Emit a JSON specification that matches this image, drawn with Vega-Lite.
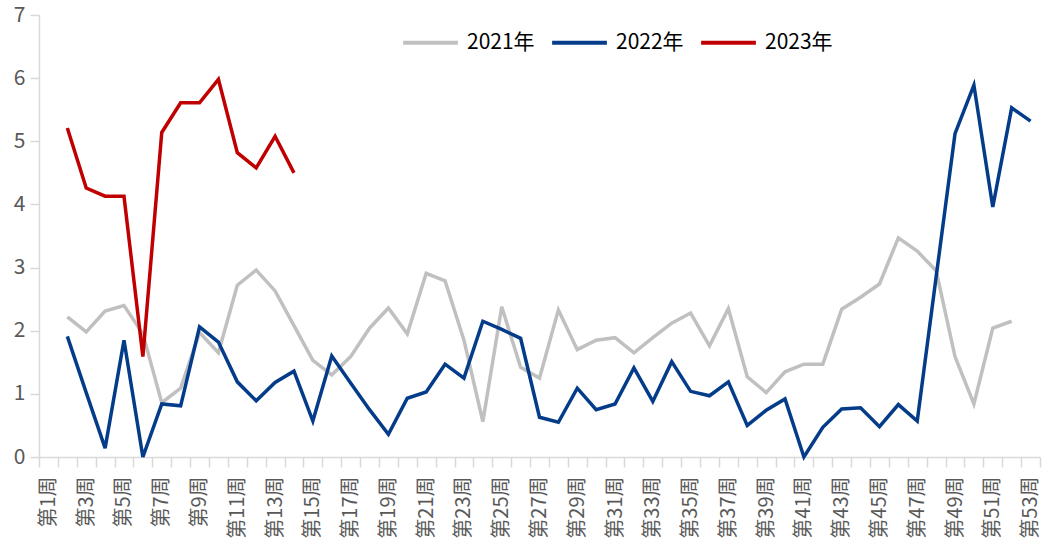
{
  "$schema": "https://vega.github.io/schema/vega-lite/v6.json",
  "width": 1001,
  "height": 442,
  "autosize": {"type": "none"},
  "padding": {"left": 39, "top": 15, "right": 6, "bottom": 85},
  "background": "white",
  "config": {"view": {"stroke": null}, "font": "Noto Sans CJK SC"},
  "data": {"values": [
    {"wk":2,"year":"2021年","v":2.22},{"wk":3,"year":"2021年","v":1.98},{"wk":4,"year":"2021年","v":2.31},{"wk":5,"year":"2021年","v":2.40},{"wk":6,"year":"2021年","v":1.95},{"wk":7,"year":"2021年","v":0.86},{"wk":8,"year":"2021年","v":1.09},{"wk":9,"year":"2021年","v":1.97},{"wk":10,"year":"2021年","v":1.65},{"wk":11,"year":"2021年","v":2.72},{"wk":12,"year":"2021年","v":2.96},{"wk":13,"year":"2021年","v":2.63},{"wk":14,"year":"2021年","v":2.08},{"wk":15,"year":"2021年","v":1.53},{"wk":16,"year":"2021年","v":1.30},{"wk":17,"year":"2021年","v":1.59},{"wk":18,"year":"2021年","v":2.04},{"wk":19,"year":"2021年","v":2.36},{"wk":20,"year":"2021年","v":1.95},{"wk":21,"year":"2021年","v":2.91},{"wk":22,"year":"2021年","v":2.79},{"wk":23,"year":"2021年","v":1.85},{"wk":24,"year":"2021年","v":0.56},{"wk":25,"year":"2021年","v":2.38},{"wk":26,"year":"2021年","v":1.42},{"wk":27,"year":"2021年","v":1.25},{"wk":28,"year":"2021年","v":2.33},{"wk":29,"year":"2021年","v":1.70},{"wk":30,"year":"2021年","v":1.85},{"wk":31,"year":"2021年","v":1.89},{"wk":32,"year":"2021年","v":1.65},{"wk":33,"year":"2021年","v":1.89},{"wk":34,"year":"2021年","v":2.12},{"wk":35,"year":"2021年","v":2.28},{"wk":36,"year":"2021年","v":1.76},{"wk":37,"year":"2021年","v":2.35},{"wk":38,"year":"2021年","v":1.27},{"wk":39,"year":"2021年","v":1.02},{"wk":40,"year":"2021年","v":1.35},{"wk":41,"year":"2021年","v":1.47},{"wk":42,"year":"2021年","v":1.47},{"wk":43,"year":"2021年","v":2.34},{"wk":44,"year":"2021年","v":2.53},{"wk":45,"year":"2021年","v":2.74},{"wk":46,"year":"2021年","v":3.47},{"wk":47,"year":"2021年","v":3.26},{"wk":48,"year":"2021年","v":2.95},{"wk":49,"year":"2021年","v":1.59},{"wk":50,"year":"2021年","v":0.84},{"wk":51,"year":"2021年","v":2.04},{"wk":52,"year":"2021年","v":2.15},
    {"wk":2,"year":"2022年","v":1.91},{"wk":3,"year":"2022年","v":1.02},{"wk":4,"year":"2022年","v":0.14},{"wk":5,"year":"2022年","v":1.85},{"wk":6,"year":"2022年","v":0.0},{"wk":7,"year":"2022年","v":0.84},{"wk":8,"year":"2022年","v":0.81},{"wk":9,"year":"2022年","v":2.06},{"wk":10,"year":"2022年","v":1.82},{"wk":11,"year":"2022年","v":1.19},{"wk":12,"year":"2022年","v":0.89},{"wk":13,"year":"2022年","v":1.18},{"wk":14,"year":"2022年","v":1.36},{"wk":15,"year":"2022年","v":0.57},{"wk":16,"year":"2022年","v":1.60},{"wk":17,"year":"2022年","v":1.17},{"wk":18,"year":"2022年","v":0.75},{"wk":19,"year":"2022年","v":0.36},{"wk":20,"year":"2022年","v":0.93},{"wk":21,"year":"2022年","v":1.03},{"wk":22,"year":"2022年","v":1.47},{"wk":23,"year":"2022年","v":1.25},{"wk":24,"year":"2022年","v":2.15},{"wk":25,"year":"2022年","v":2.02},{"wk":26,"year":"2022年","v":1.88},{"wk":27,"year":"2022年","v":0.63},{"wk":28,"year":"2022年","v":0.55},{"wk":29,"year":"2022年","v":1.09},{"wk":30,"year":"2022年","v":0.75},{"wk":31,"year":"2022年","v":0.84},{"wk":32,"year":"2022年","v":1.41},{"wk":33,"year":"2022年","v":0.88},{"wk":34,"year":"2022年","v":1.51},{"wk":35,"year":"2022年","v":1.04},{"wk":36,"year":"2022年","v":0.97},{"wk":37,"year":"2022年","v":1.19},{"wk":38,"year":"2022年","v":0.50},{"wk":39,"year":"2022年","v":0.74},{"wk":40,"year":"2022年","v":0.92},{"wk":41,"year":"2022年","v":0.0},{"wk":42,"year":"2022年","v":0.47},{"wk":43,"year":"2022年","v":0.76},{"wk":44,"year":"2022年","v":0.78},{"wk":45,"year":"2022年","v":0.48},{"wk":46,"year":"2022年","v":0.83},{"wk":47,"year":"2022年","v":0.57},{"wk":48,"year":"2022年","v":2.85},{"wk":49,"year":"2022年","v":5.12},{"wk":50,"year":"2022年","v":5.89},{"wk":51,"year":"2022年","v":3.96},{"wk":52,"year":"2022年","v":5.53},{"wk":53,"year":"2022年","v":5.32},
    {"wk":2,"year":"2023年","v":5.21},{"wk":3,"year":"2023年","v":4.26},{"wk":4,"year":"2023年","v":4.13},{"wk":5,"year":"2023年","v":4.13},{"wk":6,"year":"2023年","v":1.59},{"wk":7,"year":"2023年","v":5.14},{"wk":8,"year":"2023年","v":5.61},{"wk":9,"year":"2023年","v":5.61},{"wk":10,"year":"2023年","v":5.98},{"wk":11,"year":"2023年","v":4.82},{"wk":12,"year":"2023年","v":4.58},{"wk":13,"year":"2023年","v":5.08},{"wk":14,"year":"2023年","v":4.50}
  ]},
  "mark": {"type": "line", "strokeWidth": 3.5},
  "encoding": {
    "x": {
      "field": "wk", "type": "ordinal", "bandPosition": 0.5,
      "scale": {"type": "band", "paddingInner": 0, "paddingOuter": 0,
        "domain": [1,2,3,4,5,6,7,8,9,10,11,12,13,14,15,16,17,18,19,20,21,22,23,24,25,26,27,28,29,30,31,32,33,34,35,36,37,38,39,40,41,42,43,44,45,46,47,48,49,50,51,52,53]},
      "axis": {
        "title": null, "tickBand": "extent", "labelAngle": -90,
        "labelExpr": "datum.value % 2 == 1 ? '第' + datum.value + '周' : ''",
        "labelOverlap": false, "labelFontSize": 20, "labelLimit": 200, "labelColor": "#595959",
        "labelPadding": 9, "tickSize": 10, "tickColor": "#D9D9D9", "tickWidth": 1.5,
        "domainColor": "#D9D9D9", "domainWidth": 1.5, "grid": false
      }
    },
    "y": {
      "field": "v", "type": "quantitative",
      "scale": {"domain": [0, 7], "nice": false},
      "axis": {
        "title": null, "grid": false, "values": [0,1,2,3,4,5,6,7],
        "labelFontSize": 21, "labelColor": "#595959", "labelPadding": 5,
        "tickSize": 9, "tickColor": "#D9D9D9", "tickWidth": 1.5,
        "domainColor": "#D9D9D9", "domainWidth": 1.5
      }
    },
    "color": {
      "field": "year", "type": "nominal",
      "scale": {"domain": ["2021年", "2022年", "2023年"], "range": ["#C0C0C0", "#043C8A", "#C00000"]},
      "legend": {
        "title": null, "orient": "none", "legendX": 362, "legendY": -2,
        "direction": "horizontal", "symbolType": "stroke", "symbolSize": 3000,
        "symbolStrokeWidth": 4, "labelFontSize": 21, "labelColor": "#000000",
        "labelOffset": 7, "columnPadding": 9
      }
    }
  }
}
